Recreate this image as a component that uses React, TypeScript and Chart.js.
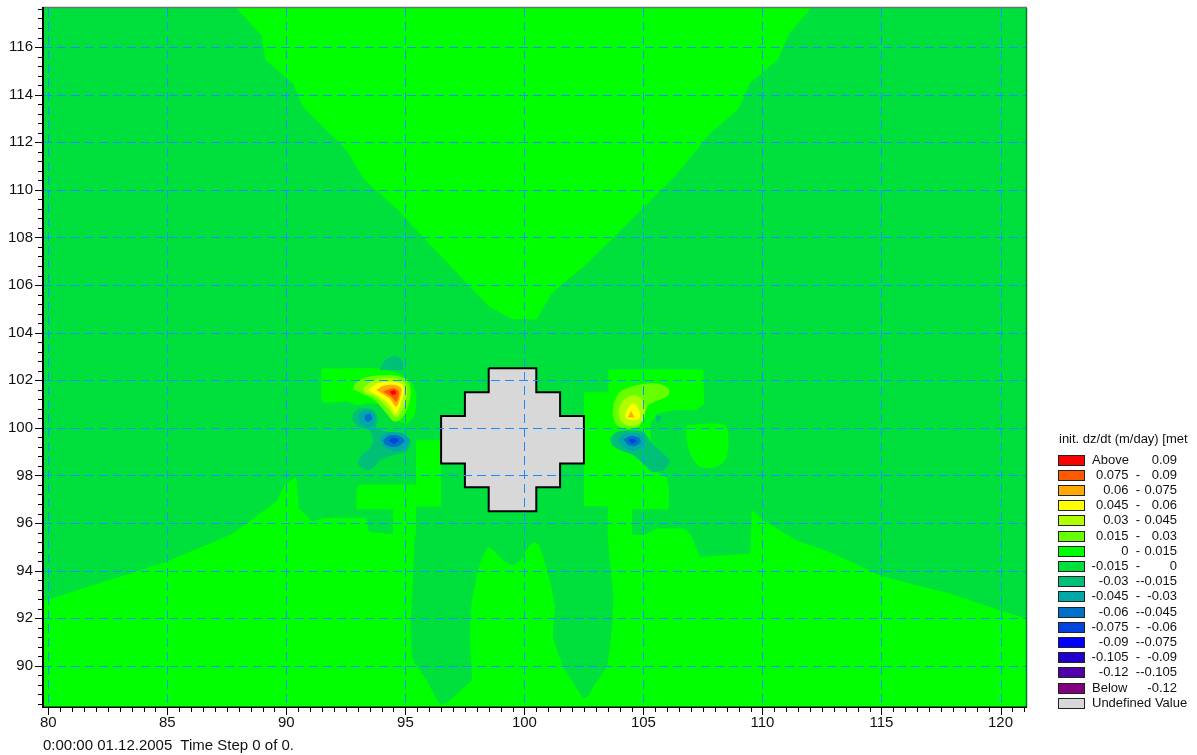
import React, { useEffect, useRef } from 'react';
import { Chart, registerables } from 'chart.js';

Chart.register(...registerables);

type P = [number, number];

// ---- axes ----
const X_MIN = 79.777;
const X_MAX = 121.113;
const Y_MIN = 88.27;
const Y_MAX = 117.64;
const X_TICKS = [80, 85, 90, 95, 100, 105, 110, 115, 120];
const Y_TICKS = [90, 92, 94, 96, 98, 100, 102, 104, 106, 108, 110, 112, 114, 116];
const X_MINOR_STEP = 0.5;
const Y_MINOR_STEP = 0.4;

// ---- legend ----
const LEGEND_TITLE = 'init. dz/dt (m/day) [met';
const LEGEND_FROM = ['Above', '0.075  -', '0.06  -', '0.045  -', '0.03  -', '0.015  -', '0  -', '-0.015  -', '-0.03  -', '-0.045  -', '-0.06  -', '-0.075  -', '-0.09  -', '-0.105  -', '-0.12  -', 'Below', 'Undefined Value'];
const LEGEND_TO = ['0.09', '0.09', '0.075', '0.06', '0.045', '0.03', '0.015', '0', '-0.015', '-0.03', '-0.045', '-0.06', '-0.075', '-0.09', '-0.105', '-0.12', ''];
const LEVEL_COLORS = ['#ff0000', '#ff5a00', '#ffa800', '#ffff00', '#b0ff00', '#66ff00', '#00ff00', '#00e03c', '#00c078', '#00a8a8', '#0070c8', '#0044e0', '#0000ff', '#2200cc', '#5000a8', '#800080', '#d8d8d8'];
const FOOTER = '0:00:00 01.12.2005  Time Step 0 of 0.';

// ---- contour polygons (data units) ----
const TOP_V: P[] = [[87.55, 118], [88.95, 116.5], [89.12, 115.45], [90.28, 114.48], [90.7, 113.5], [91.53, 112.66], [92.52, 111.68], [93.27, 110.42], [94.68, 109.16], [95.85, 107.9], [97.18, 106.5], [98.5, 105.1], [99.5, 104.57], [100.5, 104.55], [101.16, 105.66], [102.49, 106.78], [103.65, 107.9], [104.49, 108.74], [106.31, 110.56], [107.81, 112.38], [108.97, 113.36], [109.47, 114.48], [110.63, 115.45], [111.13, 116.57], [112.35, 118]];
const BOTTOM_LIGHT: P[] = [[79.5, 92.62], [84.97, 94.37], [87.76, 95.56], [88.88, 96.4], [89.58, 96.89], [89.93, 97.59], [90.42, 97.94], [90.52, 96.61], [91.12, 96.05], [91.54, 96.22], [93.36, 96.22], [93.47, 95.63], [94.48, 95.53], [104.52, 95.53], [105.0, 95.49], [105.56, 95.77], [106.68, 95.77], [106.96, 95.56], [107.17, 95.07], [107.38, 94.57], [109.48, 94.72], [109.55, 96.54], [110.03, 96.12], [111.43, 95.28], [112.97, 94.72], [115.07, 93.74], [117.87, 93.04], [119.97, 92.34], [121.5, 91.85], [121.5, 88], [79.5, 88]];
const PLUME: P[] = [[95.45, 96.68], [95.39, 95.55], [95.32, 93.59], [95.21, 91.5], [95.32, 90.24], [95.88, 89.4], [96.44, 88.42], [96.75, 88.45], [97.3, 88.95], [97.78, 89.4], [97.71, 91.08], [97.78, 92.62], [98.13, 94.29], [98.48, 94.99], [98.76, 94.78], [99.11, 94.43], [99.53, 94.22], [99.95, 94.57], [100.16, 94.99], [100.44, 95.2], [100.65, 94.99], [101.07, 93.59], [101.28, 92.48], [101.21, 91.22], [101.63, 89.96], [102.34, 88.84], [102.48, 88.63], [102.7, 88.75], [102.9, 89.12], [103.46, 89.96], [103.67, 91.5], [103.74, 92.9], [103.6, 94.29], [103.46, 96.11], [103.5, 96.7], [102.5, 96.7], [102.5, 98.5], [96.5, 98.5], [96.5, 96.68]];
const LEFT_BLOCK: P[] = [[92.94, 96.58], [92.94, 97.45], [93.12, 97.62], [95.45, 97.62], [95.45, 99.48], [96.5, 99.48], [96.5, 96.68], [95.45, 96.68], [95.45, 95.5], [94.48, 95.5], [94.48, 96.58]];
const RIGHT_LIGHT: P[] = [[102.5, 101.5], [103.53, 101.5], [103.53, 102.45], [107.52, 102.45], [107.55, 101.0], [107.2, 100.75], [106.3, 100.75], [105.6, 100.6], [105.3, 100.2], [105.3, 98.3], [106.0, 97.9], [106.06, 97.45], [106.06, 96.58], [104.52, 96.58], [104.52, 95.5], [103.5, 95.5], [103.5, 96.7], [102.5, 96.7]];
const RIGHT_BLOB: P[] = [[106.82, 100.11], [107.94, 100.18], [108.5, 100.04], [108.5, 98.78], [108.08, 98.36], [107.38, 98.36], [106.96, 98.92], [106.79, 99.62]];
const LEFT_A: P[] = [[91.47, 102.49], [93.92, 102.49], [94.69, 102.29], [95.25, 101.94], [95.46, 101.38], [95.39, 100.54], [95.04, 100.19], [94.62, 100.33], [94.2, 100.89], [93.5, 101.03], [92.94, 100.96], [92.59, 101.1], [91.6, 101.05], [91.47, 101.2]];
const TEAL_BUMP: P[] = [[93.92, 102.43], [94.13, 102.83], [94.55, 103.02], [94.87, 102.83], [94.93, 102.43]];
const LEFT_ENV: P[] = [[92.8, 100.6], [93.08, 100.81], [93.64, 100.77], [93.85, 100.39], [93.78, 100.04], [94.2, 99.83], [94.9, 99.76], [95.24, 99.41], [95.03, 98.99], [94.48, 98.85], [93.92, 98.64], [93.64, 98.29], [93.36, 98.22], [93.01, 98.5], [93.15, 98.85], [93.5, 99.13], [93.64, 99.41], [93.5, 99.9], [93.01, 100.04], [92.77, 100.32]];
const B1_TEAL: P[] = [[93.01, 100.53], [93.29, 100.74], [93.64, 100.67], [93.75, 100.39], [93.64, 100.11], [93.36, 100.04], [93.08, 100.18]];
const B1_BLUE: P[] = [[93.29, 100.53], [93.5, 100.6], [93.61, 100.39], [93.43, 100.25], [93.29, 100.35]];
const B2_TEAL: P[] = [[93.92, 99.55], [94.2, 99.79], [94.76, 99.79], [95.2, 99.48], [94.97, 99.13], [94.55, 99.03], [94.06, 99.2]];
const B2_BLUE: P[] = [[94.06, 99.48], [94.34, 99.69], [94.76, 99.65], [94.97, 99.45], [94.69, 99.23], [94.41, 99.2], [94.13, 99.31]];
const B2_CORE: P[] = [[94.31, 99.48], [94.5, 99.59], [94.73, 99.48], [94.5, 99.31]];
const LH_015: P[] = [[92.87, 101.87], [93.36, 102.13], [94.34, 102.22], [94.97, 102.08], [95.21, 101.73], [95.18, 101.1], [94.9, 100.47], [94.55, 100.26], [94.2, 100.61], [93.71, 101.17], [93.15, 101.45], [92.8, 101.62]];
const LH_030: P[] = [[93.22, 101.66], [93.64, 101.99], [94.41, 102.08], [94.93, 101.94], [95.07, 101.59], [94.93, 100.89], [94.62, 100.45], [94.27, 100.82], [93.78, 101.29], [93.33, 101.45]];
const LH_045: P[] = [[93.43, 101.59], [93.85, 101.87], [94.48, 101.94], [94.9, 101.8], [94.93, 101.45], [94.76, 100.89], [94.59, 100.59], [94.27, 101.03], [93.85, 101.34]];
const LH_060: P[] = [[93.78, 101.59], [94.06, 101.76], [94.55, 101.8], [94.83, 101.66], [94.79, 101.31], [94.62, 100.89], [94.34, 101.24]];
const LH_075: P[] = [[94.06, 101.52], [94.48, 101.66], [94.73, 101.52], [94.62, 101.1], [94.41, 101.31]];
const LH_090: P[] = [[94.34, 101.52], [94.55, 101.59], [94.62, 101.43], [94.45, 101.38]];
const R_ENV: P[] = [[103.6, 99.55], [103.88, 99.83], [104.44, 99.9], [105.0, 99.83], [105.35, 99.34], [105.84, 98.92], [106.12, 98.57], [105.84, 98.22], [105.35, 98.15], [105.0, 98.5], [104.58, 98.85], [104.02, 99.06], [103.67, 99.27]];
const R_SPOT: P[] = [[105.49, 100.53], [105.77, 100.49], [105.59, 100.18]];
const R_TEAL: P[] = [[103.95, 99.55], [104.3, 99.79], [104.79, 99.76], [105.07, 99.48], [104.86, 99.13], [104.51, 99.03], [104.09, 99.23]];
const R_BLUE: P[] = [[104.16, 99.51], [104.44, 99.65], [104.79, 99.59], [104.89, 99.41], [104.65, 99.23], [104.37, 99.27]];
const R_CORE: P[] = [[104.37, 99.48], [104.55, 99.54], [104.72, 99.45], [104.54, 99.34]];
const RH_015: P[] = [[103.74, 101.02], [104.02, 101.51], [104.72, 101.79], [105.56, 101.86], [106.05, 101.65], [106.05, 101.37], [105.63, 101.16], [105.21, 100.95], [105.0, 100.46], [104.79, 100.04], [104.3, 99.97], [103.88, 100.11], [103.71, 100.53]];
const RH_030: P[] = [[103.95, 100.74], [104.16, 101.16], [104.58, 101.37], [104.93, 101.23], [105.07, 100.81], [105.0, 100.32], [104.72, 100.11], [104.3, 100.11], [104.02, 100.32]];
const RH_045: P[] = [[104.23, 100.6], [104.44, 100.95], [104.58, 101.02], [104.75, 100.88], [104.86, 100.53], [104.79, 100.35], [104.51, 100.32], [104.27, 100.39]];
const RH_060: P[] = [[104.34, 100.43], [104.48, 100.71], [104.62, 100.43]];
const OBSTACLE: P[] = [[98.5, 102.5], [100.5, 102.5], [100.5, 101.5], [101.5, 101.5], [101.5, 100.5], [102.5, 100.5], [102.5, 98.5], [101.5, 98.5], [101.5, 97.5], [100.5, 97.5], [100.5, 96.5], [98.5, 96.5], [98.5, 97.5], [97.5, 97.5], [97.5, 98.5], [96.5, 98.5], [96.5, 100.5], [97.5, 100.5], [97.5, 101.5], [98.5, 101.5], [98.5, 102.5]];

// drawing order bottom -> top : [polygon, legend level, tension]
const LAYERS: [P[], number, number][] = [
  [BOTTOM_LIGHT, 6, 0], [TOP_V, 6, 0], [PLUME, 7, 0.15], [LEFT_BLOCK, 6, 0], [RIGHT_LIGHT, 6, 0], [RIGHT_BLOB, 6, 0.3],
  [LEFT_A, 6, 0.2], [TEAL_BUMP, 8, 0.3], [LEFT_ENV, 8, 0.2], [R_ENV, 8, 0.2], [R_SPOT, 8, 0],
  [B1_TEAL, 9, 0.3], [B1_BLUE, 10, 0.3], [B2_TEAL, 9, 0.3], [B2_BLUE, 10, 0.3], [B2_CORE, 11, 0.2],
  [R_TEAL, 9, 0.3], [R_BLUE, 10, 0.3], [R_CORE, 11, 0.2],
  [LH_015, 5, 0.3], [LH_030, 4, 0.3], [LH_045, 3, 0.3], [LH_060, 2, 0.3], [LH_075, 1, 0.3], [LH_090, 0, 0.2],
  [RH_015, 5, 0.3], [RH_030, 4, 0.3], [RH_045, 3, 0.3], [RH_060, 2, 0],
];

const FONT = '"Liberation Sans", Arial, Helvetica, sans-serif';

const framePlugin = {
  id: 'frame',
  beforeDatasetsDraw(chart: any) {
    const { ctx, chartArea: a } = chart;
    ctx.save();
    ctx.fillStyle = LEVEL_COLORS[7];
    ctx.fillRect(a.left, a.top, a.right - a.left, a.bottom - a.top);
    ctx.restore();
  },
  afterDatasetsDraw(chart: any) {
    const { ctx, chartArea: a, scales } = chart;
    const xs = scales.x;
    const ys = scales.y;
    ctx.save();
    // grid
    ctx.beginPath();
    ctx.rect(a.left, a.top, a.right - a.left, a.bottom - a.top);
    ctx.clip();
    ctx.strokeStyle = '#1e8cff';
    ctx.lineWidth = 1;
    ctx.setLineDash([9, 5]);
    X_TICKS.forEach((v) => {
      const px = Math.round(xs.getPixelForValue(v)) + 0.5;
      ctx.beginPath();
      ctx.moveTo(px, a.top);
      ctx.lineTo(px, a.bottom);
      ctx.stroke();
    });
    Y_TICKS.forEach((v) => {
      const py = Math.round(ys.getPixelForValue(v)) + 0.5;
      ctx.beginPath();
      ctx.moveTo(a.left, py);
      ctx.lineTo(a.right, py);
      ctx.stroke();
    });
    ctx.restore();

    ctx.save();
    ctx.strokeStyle = '#000';
    ctx.lineWidth = 1;
    // x ticks
    for (let v = X_TICKS[0]; v <= X_MAX; v += X_MINOR_STEP) {
      const major = X_TICKS.includes(v);
      const px = Math.round(xs.getPixelForValue(v)) + 0.5;
      ctx.beginPath();
      ctx.moveTo(px, a.bottom);
      ctx.lineTo(px, a.bottom + (major ? 8 : 5));
      ctx.stroke();
    }
    // y ticks
    for (let k = 0; ; k++) {
      const v = Math.round((88.4 + k * Y_MINOR_STEP) * 10) / 10;
      if (v > Y_MAX) break;
      const major = Y_TICKS.includes(v);
      const py = Math.round(ys.getPixelForValue(v)) + 0.5;
      ctx.beginPath();
      ctx.moveTo(a.left, py);
      ctx.lineTo(a.left - (major ? 8 : 5), py);
      ctx.stroke();
    }
    // frame
    ctx.strokeStyle = '#707070';
    ctx.lineWidth = 1.5;
    ctx.beginPath();
    ctx.moveTo(a.left, a.top - 0.5);
    ctx.lineTo(a.right, a.top - 0.5);
    ctx.stroke();
    ctx.strokeStyle = '#0a7a2a';
    ctx.beginPath();
    ctx.moveTo(a.right - 0.5, a.top);
    ctx.lineTo(a.right - 0.5, a.bottom);
    ctx.stroke();
    ctx.strokeStyle = '#000';
    ctx.lineWidth = 2;
    ctx.beginPath();
    ctx.moveTo(a.left, a.top - 1);
    ctx.lineTo(a.left, a.bottom + 1);
    ctx.stroke();
    ctx.lineWidth = 1.5;
    ctx.beginPath();
    ctx.moveTo(a.left - 1, a.bottom + 0.25);
    ctx.lineTo(a.right, a.bottom + 0.25);
    ctx.stroke();
    ctx.restore();
  },
};

export default function App() {
  const ref = useRef<HTMLCanvasElement | null>(null);

  useEffect(() => {
    if (!ref.current) return;
    const toPts = (pts: P[]) => pts.map(([x, y]) => ({ x, y }));
    const layers = LAYERS.map(([pts, lvl, t]) => ({
      data: toPts(pts),
      showLine: true,
      fill: 'shape',
      backgroundColor: LEVEL_COLORS[lvl],
      borderColor: 'rgba(0,0,0,0)',
      borderWidth: 0,
      pointRadius: 0,
      pointHoverRadius: 0,
      tension: t,
    }));
    const obstacle = {
      data: toPts(OBSTACLE),
      showLine: true,
      fill: 'shape',
      backgroundColor: LEVEL_COLORS[16],
      borderColor: '#000',
      borderWidth: 2,
      borderJoinStyle: 'miter',
      pointRadius: 0,
      pointHoverRadius: 0,
      tension: 0,
    };
    const datasets = [...layers, obstacle].reverse();

    const tickFont = { family: FONT, size: 15 };
    const chart = new Chart(ref.current, {
      type: 'scatter',
      data: { datasets: datasets as any },
      options: {
        animation: false,
        responsive: false,
        events: [],
        layout: { padding: { left: 0, top: 8, right: 170, bottom: 0 } },
        plugins: { legend: { display: false }, tooltip: { enabled: false } },
        scales: {
          x: {
            type: 'linear',
            position: 'bottom',
            min: X_MIN,
            max: X_MAX,
            grid: { display: false, drawTicks: false },
            border: { display: false },
            afterBuildTicks: (s: any) => { s.ticks = X_TICKS.map((v) => ({ value: v })); },
            afterFit: (s: any) => { s.height = 48; s.paddingLeft = 0; s.paddingRight = 0; s.paddingTop = 0; s.paddingBottom = 0; },
            ticks: { padding: 7, color: '#111', font: tickFont, maxRotation: 0, autoSkip: false, callback: (v: any) => String(v) },
          },
          y: {
            type: 'linear',
            position: 'left',
            min: Y_MIN,
            max: Y_MAX,
            grid: { display: false, drawTicks: false },
            border: { display: false },
            afterBuildTicks: (s: any) => { s.ticks = Y_TICKS.map((v) => ({ value: v })); },
            afterFit: (s: any) => { s.width = 43; s.paddingLeft = 0; s.paddingRight = 0; s.paddingTop = 0; s.paddingBottom = 0; },
            ticks: { padding: 10, color: '#111', font: tickFont, autoSkip: false, callback: (v: any) => String(v) },
          },
        },
      } as any,
      plugins: [framePlugin],
    });
    return () => chart.destroy();
  }, []);

  const rowTop = (i: number) => 454.5 + i * 15.2;
  const isWord = (s: string) => /^[A-Z]/.test(s);

  return (
    <div style={{ position: 'absolute', left: 0, top: 0, width: 1197, height: 755, background: '#fff', fontFamily: FONT, color: '#111', overflow: 'hidden' }}>
      <canvas ref={ref} width={1197} height={755} style={{ position: 'absolute', left: 0, top: 0 }} />
      <div style={{ position: 'absolute', left: 1059, top: 431, fontSize: 13, whiteSpace: 'pre', lineHeight: '15px' }}>{LEGEND_TITLE}</div>
      {LEGEND_FROM.map((lab, i) => (
        <React.Fragment key={i}>
          <div style={{ position: 'absolute', left: 1058, top: rowTop(i), width: 25, height: 9, background: LEVEL_COLORS[i], border: '1px solid #222' }} />
          {isWord(lab) ? (
            <div style={{ position: 'absolute', left: 1092, top: rowTop(i) - 3, fontSize: 13, lineHeight: '15px', whiteSpace: 'pre' }}>{lab}</div>
          ) : (
            <div style={{ position: 'absolute', right: 1197 - 1140, top: rowTop(i) - 3, fontSize: 13, lineHeight: '15px', whiteSpace: 'pre', textAlign: 'right' }}>{lab}</div>
          )}
          {LEGEND_TO[i] !== '' && (
            <div style={{ position: 'absolute', right: 1197 - 1177, top: rowTop(i) - 3, fontSize: 13, lineHeight: '15px', whiteSpace: 'pre', textAlign: 'right' }}>{LEGEND_TO[i]}</div>
          )}
        </React.Fragment>
      ))}
      <div style={{ position: 'absolute', left: 43, top: 736, fontSize: 15, lineHeight: '17px', whiteSpace: 'pre' }}>{FOOTER}</div>
    </div>
  );
}
